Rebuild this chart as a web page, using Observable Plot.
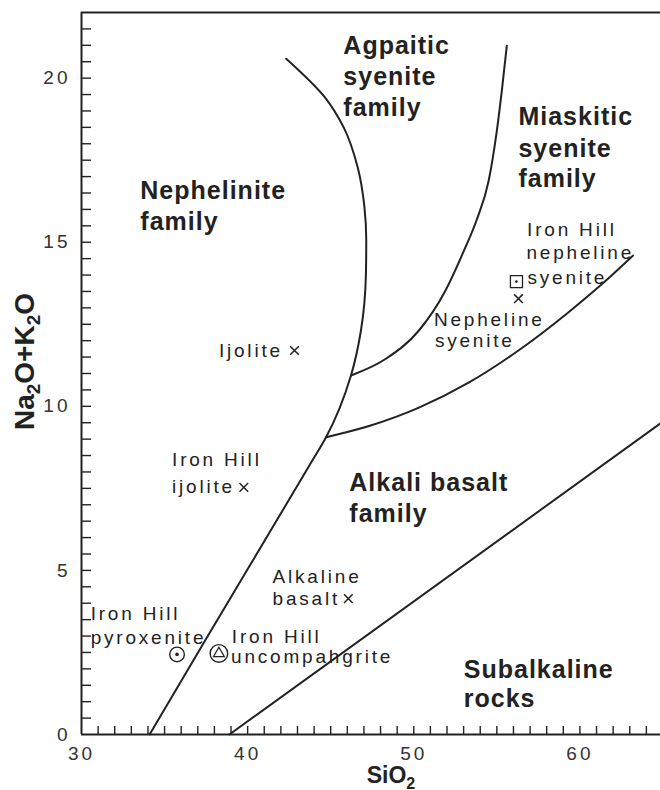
<!DOCTYPE html>
<html><head><meta charset="utf-8">
<script src="https://cdn.jsdelivr.net/npm/d3@7"></script>
<script src="https://cdn.jsdelivr.net/npm/@observablehq/plot@0.6"></script>
<style>
body{margin:0;background:#fff;}
</style>
</head><body><div id="chart"></div>
<script>
// Axis tick labels
const xTickLabels = [30, 40, 50, 60];
const yTickLabels = [0, 5, 10, 15, 20];

// Boundary curves: [SiO2, Na2O+K2O]
const nephelinitePoints = [[34.1,0],[37.53,2.94],[43.92,8.37],[44.72,9.06],[46.22,10.94],[46.82,12.31],[47.12,14.04],[47.14,15.05],[47.03,16.07],[46.62,17.29],[45.78,18.5],[44.72,19.37],[42.32,20.59]];
const agpaiticPoints = [[46.22,10.94],[48.32,11.45],[50.31,12.31],[51.91,13.53],[53.0,14.72],[53.8,15.70],[54.51,16.88],[55.0,18.4],[55.3,19.62],[55.6,20.99]];
const nephSyenitePoints = [[44.72,9.06],[47.31,9.40],[50.31,9.96],[53.3,10.72],[56.3,11.7],[59.3,12.86],[61.5,13.8],[63.19,14.59]];
const subalkalinePoints = [[38.9,0],[64.85,9.48]];

// Samples
const crossSamples = [
  {name:"Ijolite", si:42.82, alk:11.70},
  {name:"Iron Hill ijolite", si:39.77, alk:7.53},
  {name:"Alkaline basalt", si:46.06, alk:4.14},
  {name:"Nepheline syenite", si:56.30, alk:13.28}
];
const ironHillNephSyenite = [{si:56.18, alk:13.80}];
const ironHillPyroxenite = [{si:35.75, alk:2.44}];
const ironHillUncompahgrite = [{si:38.27, alk:2.47}];

// Field labels (text, anchored at baseline start, data units)
const regionLabels = [
  {t:"Nephelinite", si:33.54, alk:16.33},
  {t:"family", si:33.54, alk:15.36},
  {t:"Agpaitic", si:45.76, alk:20.75},
  {t:"syenite", si:45.76, alk:19.80},
  {t:"family", si:45.76, alk:18.86},
  {t:"Miaskitic", si:56.30, alk:18.56},
  {t:"syenite", si:56.30, alk:17.61},
  {t:"family", si:56.30, alk:16.67},
  {t:"Alkali basalt", si:46.12, alk:7.43},
  {t:"family", si:46.12, alk:6.49},
  {t:"Subalkaline", si:53.01, alk:1.71},
  {t:"rocks", si:53.01, alk:0.85}
];
const sampleLabels = [
  {t:"Ijolite", si:38.27, alk:11.49},
  {t:"Iron Hill", si:35.45, alk:8.17},
  {t:"ijolite", si:35.45, alk:7.37},
  {t:"Alkaline", si:41.50, alk:4.63},
  {t:"basalt", si:41.50, alk:3.96},
  {t:"Iron Hill", si:30.55, alk:3.50},
  {t:"pyroxenite", si:30.55, alk:2.77},
  {t:"Iron Hill", si:39.05, alk:2.80},
  {t:"uncompahgrite", si:39.0, alk:2.19},
  {t:"Iron Hill", si:56.82, alk:15.20},
  {t:"nepheline", si:56.78, alk:14.50},
  {t:"syenite", si:56.84, alk:13.74},
  {t:"Nepheline", si:51.21, alk:12.46},
  {t:"syenite", si:51.27, alk:11.82}
];

const W = 660, H = 790, mL = 81, mR = 0, mT = 12, mB = 56;
const xDom = [30, 64.85], yDom = [0, 22];
const pxPerX = (W - mL - mR) / (xDom[1] - xDom[0]);
const pxPerY = (H - mT - mB) / (yDom[1] - yDom[0]);
const xMinor = d3.range(31, 65, 1);
const yMinor = d3.range(0.5, 22, 0.5);
const ink = "#222";
const font = "'Liberation Sans', Arial, Helvetica, sans-serif";
const line = (pts, curve) => Plot.line(pts, {x: d => d[0], y: d => d[1], curve, stroke: ink, strokeWidth: 2});

const chart = Plot.plot({
  width: W, height: H,
  marginLeft: mL, marginRight: mR, marginTop: mT, marginBottom: mB,
  style: {fontFamily: font, fontSize: "19px", color: "#333", background: "#fff"},
  x: {domain: xDom, ticks: xTickLabels, tickSize: 0, tickPadding: 12, label: null},
  y: {domain: yDom, ticks: yTickLabels, tickSize: 0, tickPadding: 11, label: null},
  marks: [
    Plot.ruleX(xMinor, {x: d => d, y1: 0, y2: 8 / pxPerY, stroke: ink, strokeWidth: 1.4}),
    Plot.ruleY(yMinor, {y: d => d, x1: xDom[0], x2: xDom[0] + 10 / pxPerX, stroke: ink, strokeWidth: 1.4}),
    Plot.ruleY([yDom[0], yDom[1]], {stroke: ink, strokeWidth: 2}),
    Plot.ruleX([xDom[0]], {stroke: ink, strokeWidth: 2}),
    line(nephelinitePoints, "monotone-y"),
    line(agpaiticPoints, "monotone-x"),
    line(nephSyenitePoints, "monotone-x"),
    line(subalkalinePoints, "linear"),
    Plot.dot(crossSamples, {x: "si", y: "alk", symbol: "times", r: 4, stroke: ink, strokeWidth: 1.5}),
    Plot.dot(ironHillNephSyenite, {x: "si", y: "alk", symbol: "square", r: 6.8, stroke: ink, strokeWidth: 1.3, fill: "none"}),
    Plot.dot(ironHillNephSyenite, {x: "si", y: "alk", r: 1.3, fill: ink}),
    Plot.dot(ironHillPyroxenite, {x: "si", y: "alk", r: 7.3, stroke: ink, strokeWidth: 1.4, fill: "none"}),
    Plot.dot(ironHillPyroxenite, {x: "si", y: "alk", r: 1.8, fill: ink}),
    Plot.dot(ironHillUncompahgrite, {x: "si", y: "alk", r: 8.8, stroke: ink, strokeWidth: 1.4, fill: "none"}),
    Plot.dot(ironHillUncompahgrite, {x: "si", y: "alk", symbol: "triangle", r: 4, stroke: ink, strokeWidth: 1.3, fill: "none"}),
    Plot.text(regionLabels, {x: "si", y: "alk", text: "t", textAnchor: "start", lineAnchor: "bottom", fontSize: 25, fontWeight: "bold", fill: ink}),
    Plot.text(sampleLabels, {x: "si", y: "alk", text: "t", textAnchor: "start", lineAnchor: "bottom", fontSize: 19, fill: ink}),
    Plot.text(["Na2O+K2O"], {frameAnchor: "left", dx: -48, dy: -12, rotate: -90, textAnchor: "middle", lineAnchor: "bottom", fontSize: 28, fontWeight: "bold", fill: ink}),
    Plot.text(["SiO2"], {frameAnchor: "bottom", dx: 20, dy: 48, textAnchor: "middle", lineAnchor: "bottom", fontSize: 23, fontWeight: "bold", fill: ink})
  ]
});

const sel = d3.select(chart);
sel.selectAll("g").each(function() {
  const fs = this.getAttribute("font-size");
  const lab = this.getAttribute("aria-label") || "";
  if (fs === "19" && !/tick/.test(lab)) d3.select(this).selectAll("text").attr("letter-spacing", "2.8px");
  if (fs === "25") d3.select(this).selectAll("text").attr("letter-spacing", "1px");
  if (/tick label/.test(lab)) d3.select(this).selectAll("text").attr("letter-spacing", "3px");
});
sel.selectAll("g.tick text").attr("letter-spacing", "3px");

// subscripts for chemical formulae
sel.selectAll("text").each(function() {
  const s = this.textContent;
  if (s === "Na2O+K2O") {
    this.innerHTML = 'Na<tspan dy="6" font-size="19">2</tspan><tspan dy="-6">O+K</tspan><tspan dy="6" font-size="19">2</tspan><tspan dy="-6">O</tspan>';
  } else if (s === "SiO2") {
    this.innerHTML = 'SiO<tspan dy="6" font-size="16">2</tspan>';
  }
});

document.getElementById("chart").appendChild(chart);
</script>
</body></html>
